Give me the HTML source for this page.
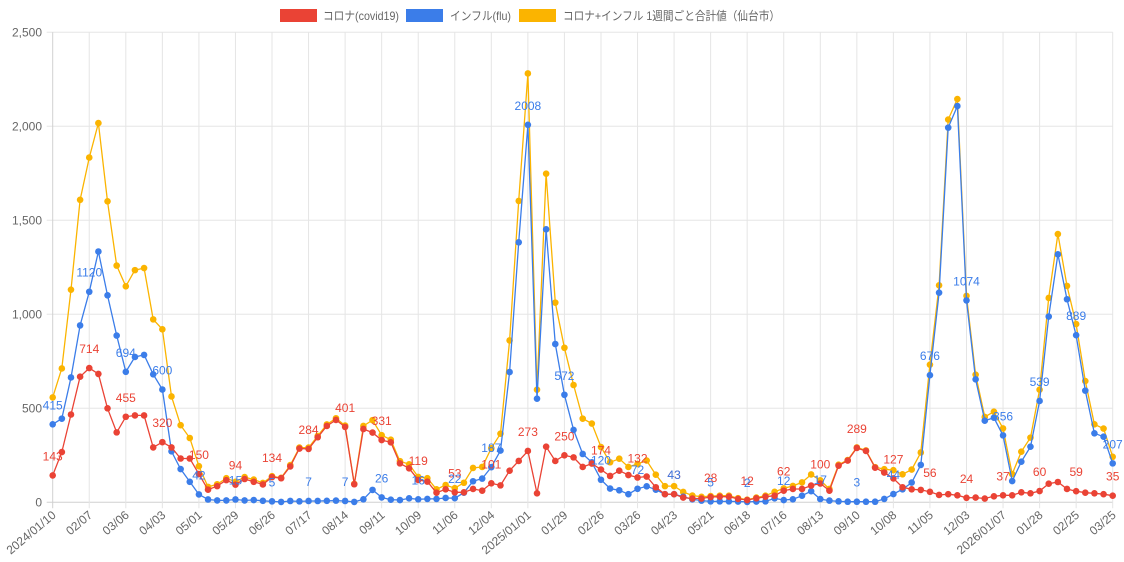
<!DOCTYPE html>
<html><head><meta charset="utf-8">
<style>
html,body{margin:0;padding:0;background:#fff;}
svg{display:block;font-family:"Liberation Sans","Noto Sans CJK JP",sans-serif;}
</style></head>
<body>
<svg id="chart" width="1124" height="562" viewBox="0 0 1124 562" xmlns="http://www.w3.org/2000/svg">
  <g font-size="12" fill="#666">
    <g>
      <rect x="280" y="9" width="37" height="13" fill="#ea4335"/>
      <text x="323" y="20" textLength="76" lengthAdjust="spacingAndGlyphs">コロナ(covid19)</text>
    </g>
    <g>
      <rect x="406" y="9" width="37" height="13" fill="#3b7de9"/>
      <text x="450" y="20" textLength="61" lengthAdjust="spacingAndGlyphs">インフル(flu)</text>
    </g>
    <g>
      <rect x="519" y="9" width="37" height="13" fill="#fbb400"/>
      <text x="563" y="20" textLength="217" lengthAdjust="spacingAndGlyphs">コロナ+インフル 1週間ごと合計値（仙台市）</text>
    </g>
  </g>
  <g id="grid"></g>
  <g id="yaxis"></g>
  <g id="xaxis"></g>
  <g id="series"></g>
  <g id="labels"></g>
</svg>
<script>
const tickLabels = ["2024/01/10","02/07","03/06","04/03","05/01","05/29","06/26","07/17","08/14","09/11","10/09","11/06","12/04","2025/01/01","01/29","02/26","03/26","04/23","05/21","06/18","07/16","08/13","09/10","10/08","11/05","12/03","2026/01/07","01/28","02/25","03/25"];
const yTicks = [0,500,1000,1500,2000,2500];
const covid = [143,267,467,668,714,683,500,372,455,462,462,292,320,292,233,233,150,67,86,118,94,124,109,95,134,128,191,286,284,346,406,438,401,96,390,371,331,319,207,181,119,110,51,69,53,53,71,62,101,90,168,220,273,48,296,220,250,239,188,206,174,140,168,145,132,137,80,43,43,25,20,20,28,30,30,18,12,21,30,35,62,71,71,89,100,62,195,222,289,273,184,158,127,80,69,66,56,39,43,37,24,25,20,32,37,37,53,48,60,99,108,71,59,51,48,43,35];
const flu = [415,445,664,941,1120,1334,1101,887,694,773,784,681,600,271,177,109,42,15,10,10,15,10,12,8,5,2,7,5,7,7,8,9,7,2,16,66,26,14,12,21,16,18,18,23,22,51,112,126,187,275,693,1383,2008,551,1452,842,572,385,257,213,120,73,64,43,72,85,67,43,43,30,16,9,5,5,5,4,2,4,5,21,12,16,35,59,17,9,5,3,3,3,3,18,44,69,105,199,676,1115,1993,2108,1074,654,434,450,356,113,216,296,539,988,1319,1080,889,594,367,349,207];
const total = [558,712,1131,1609,1834,2017,1601,1259,1149,1235,1246,973,920,563,410,342,192,82,96,128,109,134,121,103,139,130,198,291,291,353,414,447,408,98,406,437,357,333,219,202,135,128,69,92,75,104,183,188,288,365,861,1603,2281,599,1748,1062,822,624,445,419,294,213,232,188,204,222,147,86,86,55,36,29,33,35,35,22,14,25,35,56,74,87,106,148,117,71,200,225,292,276,187,176,171,149,174,265,732,1154,2036,2145,1098,679,454,482,393,150,269,344,599,1087,1427,1151,948,645,415,392,242];

const NS="http://www.w3.org/2000/svg";
const L=52.7,R=1112.7,T=32.3,B=502.3,YMAX=2500;
const n=covid.length;
function xs(i){return L+(R-L)*i/(n-1);}
function ys(v){return B-(B-T)*v/YMAX;}
function mk(tag,attrs,parent){const e=document.createElementNS(NS,tag);for(const k in attrs)e.setAttribute(k,attrs[k]);parent.appendChild(e);return e;}
const grid=document.getElementById('grid'),yaxis=document.getElementById('yaxis'),xaxis=document.getElementById('xaxis'),series=document.getElementById('series'),labels=document.getElementById('labels');

yTicks.forEach(v=>{
  const y=ys(v);
  const gl=mk('line',{x1:L-6,x2:R,y1:y,y2:y,stroke:v===0?'#d0d0d0':'#e5e5e5','stroke-width':1},grid);
  
  
  const t=mk('text',{x:42,y:y+4,'text-anchor':'end','font-size':12,fill:'#666'},yaxis);
  
  
  t.textContent=v.toLocaleString('en-US');
});
tickLabels.forEach((lab,k)=>{
  const x=xs(k*4);
  const gl=mk('line',{x1:x,x2:x,y1:T,y2:B+6,stroke:k===0?'#d0d0d0':'#e5e5e5','stroke-width':1},grid);
  
  
  const t=mk('text',{transform:`translate(${x+4},${B+14}) rotate(-40)`,'text-anchor':'end','font-size':12,fill:'#666'},xaxis);
  
  
  t.textContent=lab;
});

function drawSeries(arr,color,name){
  const g=mk('g',{},series);
  
  
  const p=mk('polyline',{points:arr.map((v,i)=>xs(i).toFixed(1)+','+ys(v).toFixed(1)).join(' '),fill:'none',stroke:color,'stroke-width':1.3},g);
  
  
  arr.forEach((v,i)=>{
    const c=mk('circle',{cx:xs(i),cy:ys(v),r:3.3,fill:color},g);
    
    
  });
}
drawSeries(total,'#fbb400','total-series');
drawSeries(flu,'#3b7de9','flu-series');
drawSeries(covid,'#ea4335','covid-series');

function drawLabels(arr,color,name){
  arr.forEach((v,i)=>{
    if(i%4!==0)return;
    const t=mk('text',{x:xs(i),y:ys(v)-15,'text-anchor':'middle','font-size':12,fill:color},labels);
    
    
    t.textContent=v;
  });
}
drawLabels(covid,'#ea4335','covid-value-label');
drawLabels(flu,'#3b7de9','flu-value-label');
</script>
</body></html>
